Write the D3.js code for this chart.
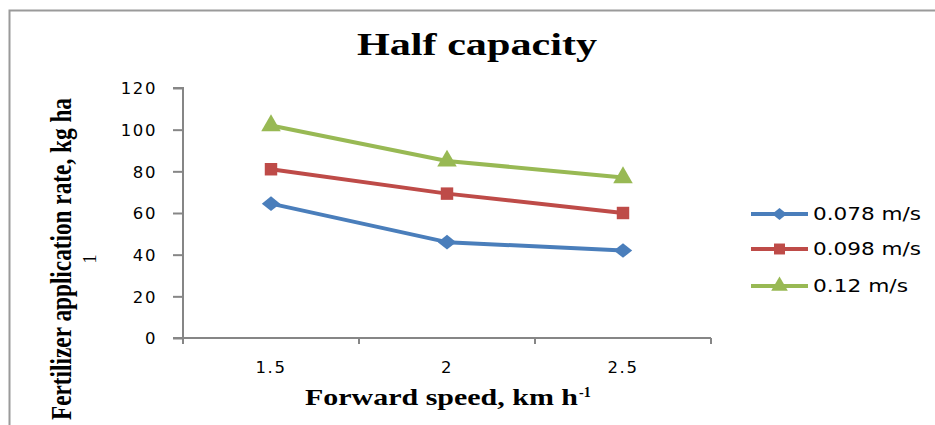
<!DOCTYPE html>
<html>
<head>
<meta charset="utf-8">
<script src="https://cdn.jsdelivr.net/npm/d3@7/dist/d3.min.js"></script>
<style>
  html, body { margin: 0; padding: 0; background: #fff; }
  svg { display: block; }
</style>
</head>
<body>
<svg id="chart" width="935" height="425"></svg>
<script>
// Forward speed categories (km/h)
const speeds = ["1.5", "2", "2.5"];
// Fertilizer application rate (kg/ha) for each metering speed
const seriesNames = ["0.078 m/s", "0.098 m/s", "0.12 m/s"];
const rate078 = [64.5, 46, 42];
const rate098 = [81, 69.3, 60];
const rate012 = [102, 85, 77];
const yTicks = [0, 20, 40, 60, 80, 100, 120];
const colors = ["#4A7EBB", "#BE4B48", "#98B954"];

// wide diamond marker (rhombus), size = width*height
const wideDiamond = {
  draw(context, size) {
    const w = Math.sqrt(size * 1.25) / 2;
    const h = Math.sqrt(size / 1.25) / 2;
    context.moveTo(0, -h);
    context.lineTo(w, 0);
    context.lineTo(0, h);
    context.lineTo(-w, 0);
    context.closePath();
  }
};
const symbols = [wideDiamond, d3.symbolSquare, d3.symbolTriangle];
const markerSizes = [270, 155, 165];
const legendSizes = [175, 120, 120];

const series = [rate078, rate098, rate012].map((vals, i) => ({
  name: seriesNames[i],
  color: colors[i],
  symbol: symbols[i],
  size: markerSizes[i],
  legendSize: legendSizes[i],
  values: vals.map((v, j) => ({ x: speeds[j], y: v }))
}));

const svg = d3.select("#chart");

// outer chart frame
svg.append("path")
  .attr("d", "M9.5,440 L9.5,10.5 L960,10.5")
  .attr("fill", "none")
  .attr("stroke", "#9a9a9a")
  .attr("stroke-width", 2);

const plot = { left: 183, right: 711, top: 88, bottom: 338 };

const x = d3.scaleBand().domain(speeds).range([plot.left, plot.right]);
const y = d3.scaleLinear().domain([0, 120]).range([plot.bottom, plot.top]);

const axisColor = "#868686";
const tickFont = { family: "DejaVu Sans", size: 16.5, spacing: 1.6 };

// y axis
const yAxis = svg.append("g")
  .attr("transform", `translate(${plot.left},0)`)
  .call(d3.axisLeft(y).tickValues(yTicks).tickSize(10).tickPadding(16));
yAxis.select(".domain").attr("stroke", axisColor).attr("stroke-width", 2)
  .attr("d", `M-10,${plot.top}H0V${plot.bottom}`);
yAxis.selectAll(".tick line").attr("stroke", axisColor).attr("stroke-width", 2);
yAxis.selectAll(".tick text")
  .attr("font-family", tickFont.family)
  .attr("font-size", tickFont.size)
  .attr("letter-spacing", tickFont.spacing)
  .attr("fill", "#000")
  .attr("dy", "0.36em");

// x axis with ticks on category boundaries
const xAxisG = svg.append("g").attr("transform", `translate(0,${plot.bottom})`);
xAxisG.append("line")
  .attr("x1", plot.left - 10).attr("x2", plot.right)
  .attr("stroke", axisColor).attr("stroke-width", 2);
const bounds = speeds.map(s => x(s)).concat([plot.right]);
xAxisG.selectAll("line.tk").data(bounds).join("line")
  .attr("class", "tk")
  .attr("x1", d => d).attr("x2", d => d)
  .attr("y1", 0).attr("y2", 6)
  .attr("stroke", axisColor).attr("stroke-width", 2);
xAxisG.selectAll("text").data(speeds).join("text")
  .attr("x", d => x(d) + x.bandwidth() / 2)
  .attr("y", 35)
  .attr("text-anchor", "middle")
  .attr("font-family", tickFont.family)
  .attr("font-size", tickFont.size)
  .attr("letter-spacing", tickFont.spacing)
  .attr("fill", "#000")
  .text(d => d);

// series lines and markers
const line = d3.line()
  .x(d => x(d.x) + x.bandwidth() / 2)
  .y(d => y(d.y));

series.forEach(s => {
  svg.append("path")
    .datum(s.values)
    .attr("d", line)
    .attr("fill", "none")
    .attr("stroke", s.color)
    .attr("stroke-width", 4)
    .attr("stroke-linejoin", "round");
  svg.selectAll(null).data(s.values).join("path")
    .attr("transform", d => `translate(${x(d.x) + x.bandwidth() / 2},${y(d.y)})`)
    .attr("d", d3.symbol(s.symbol, s.size))
    .attr("fill", s.color);
});

// title
svg.append("text")
  .attr("x", 477).attr("y", 55)
  .attr("text-anchor", "middle")
  .attr("font-family", "Liberation Serif")
  .attr("font-weight", "bold")
  .attr("font-size", 32)
  .attr("textLength", 240)
  .attr("lengthAdjust", "spacingAndGlyphs")
  .text("Half capacity");

// x axis title
svg.append("text")
  .attr("x", 305).attr("y", 405)
  .attr("font-family", "Liberation Serif")
  .attr("font-weight", "bold")
  .attr("font-size", 23)
  .attr("textLength", 273)
  .attr("lengthAdjust", "spacingAndGlyphs")
  .text("Forward speed, km h");
svg.append("text")
  .attr("x", 579).attr("y", 397)
  .attr("font-family", "Liberation Serif")
  .attr("font-weight", "bold")
  .attr("font-size", 14)
  .text("-1");

// y axis title (two lines), condensed serif
const yt = svg.append("g").attr("transform", "translate(0,259) rotate(-90)");
yt.append("text")
  .attr("x", 0).attr("y", 71)
  .attr("text-anchor", "middle")
  .attr("font-family", "Liberation Serif")
  .attr("font-weight", "bold")
  .attr("font-size", 30)
  .attr("textLength", 322)
  .attr("lengthAdjust", "spacingAndGlyphs")
  .text("Fertilizer application rate, kg ha");
yt.append("text")
  .attr("x", 0).attr("y", 96)
  .attr("text-anchor", "middle")
  .attr("font-family", "Liberation Serif")
  .attr("font-size", 19)
  .text("1");

// legend
const legend = svg.append("g");
series.forEach((s, i) => {
  const ly = [214, 249, 286][i];
  const g = legend.append("g").attr("transform", `translate(0,${ly})`);
  g.append("line")
    .attr("x1", 751).attr("x2", 808)
    .attr("stroke", s.color).attr("stroke-width", 4);
  g.append("path")
    .attr("transform", "translate(779.5,0)")
    .attr("d", d3.symbol(s.symbol, s.legendSize))
    .attr("fill", s.color);
  g.append("text")
    .attr("x", 813).attr("y", 0).attr("dy", "0.36em")
    .attr("font-family", tickFont.family)
    .attr("font-size", 17)
    .attr("textLength", s.name.length === 9 ? 108 : 95)
    .attr("lengthAdjust", "spacingAndGlyphs")
    .attr("fill", "#000")
    .text(s.name);
});
</script>
</body>
</html>
